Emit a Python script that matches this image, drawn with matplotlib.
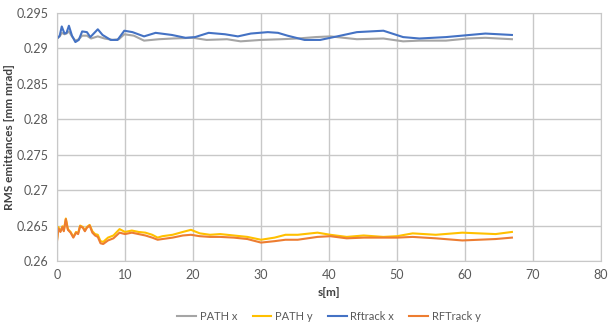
import numpy as np
import matplotlib
matplotlib.use('Agg')
import matplotlib.pyplot as plt
from matplotlib.ticker import FuncFormatter

plt.rcParams['font.family'] = ['Lato', 'DejaVu Sans']

# PATH x / Rftrack x (horizontal emittance)
s_path_x = [0, 0.4, 0.7, 1.1, 1.4, 1.75, 2.2, 2.7, 3.2, 3.7, 4.4, 5.0, 6.0, 7.0, 8.2, 9.1, 9.9,
            11.3, 12.8, 15, 17, 20, 22, 25, 27, 30, 33, 35.4, 38, 40.2, 44.1, 48, 50.9, 53.3,
            57.2, 60.4, 63, 66.9]
path_x = [0.2914, 0.2917, 0.2922, 0.2920, 0.2921, 0.2924, 0.2917, 0.2911, 0.2913, 0.2918,
          0.2918, 0.2914, 0.2917, 0.2914, 0.2912, 0.2913, 0.2920, 0.2918, 0.2911, 0.2913,
          0.2914, 0.2915, 0.2912, 0.2913, 0.2910, 0.2912, 0.2913, 0.2914, 0.2916, 0.2917,
          0.2913, 0.2914, 0.2910, 0.2911, 0.2911, 0.2914, 0.2915, 0.2913]

s_rf_x = [0, 0.4, 0.7, 1.1, 1.4, 1.75, 2.2, 2.7, 3.2, 3.7, 4.4, 4.9, 5.5, 6.0, 6.7, 7.9, 8.9,
          9.9, 11.1, 12.8, 14.5, 16.9, 18.9, 20.3, 22.3, 24.7, 26.6, 28.5, 31, 32.5, 33.9,
          36.4, 38.7, 41.2, 44.1, 48, 50.9, 53.3, 57.2, 63, 66.9]
rf_x = [0.29137, 0.2918, 0.2931, 0.2921, 0.2922, 0.2932, 0.2918, 0.2909, 0.2912, 0.2924,
        0.2923, 0.2916, 0.2922, 0.2927, 0.2919, 0.2912, 0.2912, 0.2925, 0.2923, 0.2917,
        0.2922, 0.2919, 0.2915, 0.2916, 0.2922, 0.2920, 0.2917, 0.2921, 0.2923, 0.2922,
        0.2918, 0.2912, 0.2912, 0.2917, 0.2923, 0.2925, 0.2916, 0.2914, 0.2916, 0.2921,
        0.2919]

# PATH y / RFTrack y (vertical emittance)
s_y = [0, 0.2, 0.5, 0.8, 1.0, 1.3, 1.6, 2.0, 2.4, 2.8, 3.1, 3.4, 3.8, 4.1, 4.4, 4.8, 5.2, 5.6,
       6.0, 6.4, 6.8, 7.5, 8.3, 9.2, 10, 11, 12, 13, 14, 14.8, 15.5, 17, 18.5, 19.7, 21, 22.5,
       24, 26, 28, 30, 32, 33.6, 35.4, 38.3, 40.2, 42.6, 45.1, 48, 50, 52.3, 55.7, 59.6,
       64.5, 66.9]
path_y = [0.2630, 0.2648, 0.2642, 0.2649, 0.2643, 0.2660, 0.2645, 0.2641, 0.2634, 0.2641,
          0.2639, 0.2650, 0.2648, 0.2643, 0.2648, 0.2651, 0.2642, 0.2638, 0.2637, 0.2628,
          0.2627, 0.2633, 0.2636, 0.2645, 0.2641, 0.2643, 0.2641, 0.2640, 0.2637, 0.2633,
          0.2635, 0.2637, 0.2641, 0.2644, 0.2639, 0.2637, 0.2638, 0.2636, 0.2634, 0.2630,
          0.2633, 0.2637, 0.2637, 0.2640, 0.2637, 0.2634, 0.2636, 0.2634, 0.2635, 0.2639,
          0.2637, 0.2640, 0.2638, 0.2641]
rf_y = [0.2628, 0.2646, 0.2641, 0.2648, 0.2642, 0.2659, 0.2644, 0.2640, 0.2633, 0.2640,
        0.2638, 0.2649, 0.2647, 0.2642, 0.2647, 0.2650, 0.2640, 0.2636, 0.2634, 0.2625,
        0.2624, 0.2629, 0.2632, 0.2640, 0.2638, 0.2640, 0.2638, 0.2636, 0.2633, 0.2630,
        0.2631, 0.2633, 0.2636, 0.2637, 0.2635, 0.2634, 0.2634, 0.2633, 0.2631, 0.2626,
        0.2628, 0.2630, 0.2630, 0.2634, 0.2635, 0.2632, 0.2633, 0.2633, 0.2633, 0.2634,
        0.2632, 0.2629, 0.2631, 0.2633]

x_ticks = np.arange(0, 81, 10)
y_ticks = [0.26, 0.265, 0.27, 0.275, 0.28, 0.285, 0.29, 0.295]

txt = '#595959'
fig = plt.figure(figsize=(6.1, 3.28), dpi=100)
ax = fig.add_axes([57/610, 1-261/328, (601-57)/610, (261-13)/328])

ax.plot(s_path_x, path_x, color='#A5A5A5', linewidth=1.5, label='PATH x')
ax.plot(s_y, path_y, color='#FFC000', linewidth=1.5, label='PATH y')
ax.plot(s_rf_x, rf_x, color='#4472C4', linewidth=1.5, label='Rftrack x')
ax.plot(s_y, rf_y, color='#ED7D31', linewidth=1.5, label='RFTrack y')

ax.set_xlim(0, 80)
ax.set_ylim(0.26, 0.295)
ax.set_xticks(x_ticks)
ax.set_yticks(y_ticks)
ax.yaxis.set_major_formatter(FuncFormatter(lambda v, p: '%g' % round(v, 3)))
ax.grid(True, color='#C8C8C8', linewidth=1.0)
ax.set_axisbelow(True)
for sp in ax.spines.values():
    sp.set_color('#C8C8C8')
ax.tick_params(length=0, labelsize=9, labelcolor=txt, pad=6)

ax.set_xlabel('s[m]', fontsize=8.5, fontweight='bold', color='#404040', labelpad=4)
ax.set_ylabel('RMS emittances [mm mrad]', fontsize=8.5, fontweight='bold', color='#404040')
ax.yaxis.set_label_coords(-0.078, 0.5)

ax.legend(loc='center', bbox_to_anchor=(0.5, -0.225), ncol=4, frameon=False, fontsize=8,
          labelcolor=txt, handlelength=1.7, handletextpad=0.3, columnspacing=1.4)

fig.savefig('out.png', dpi=100)
